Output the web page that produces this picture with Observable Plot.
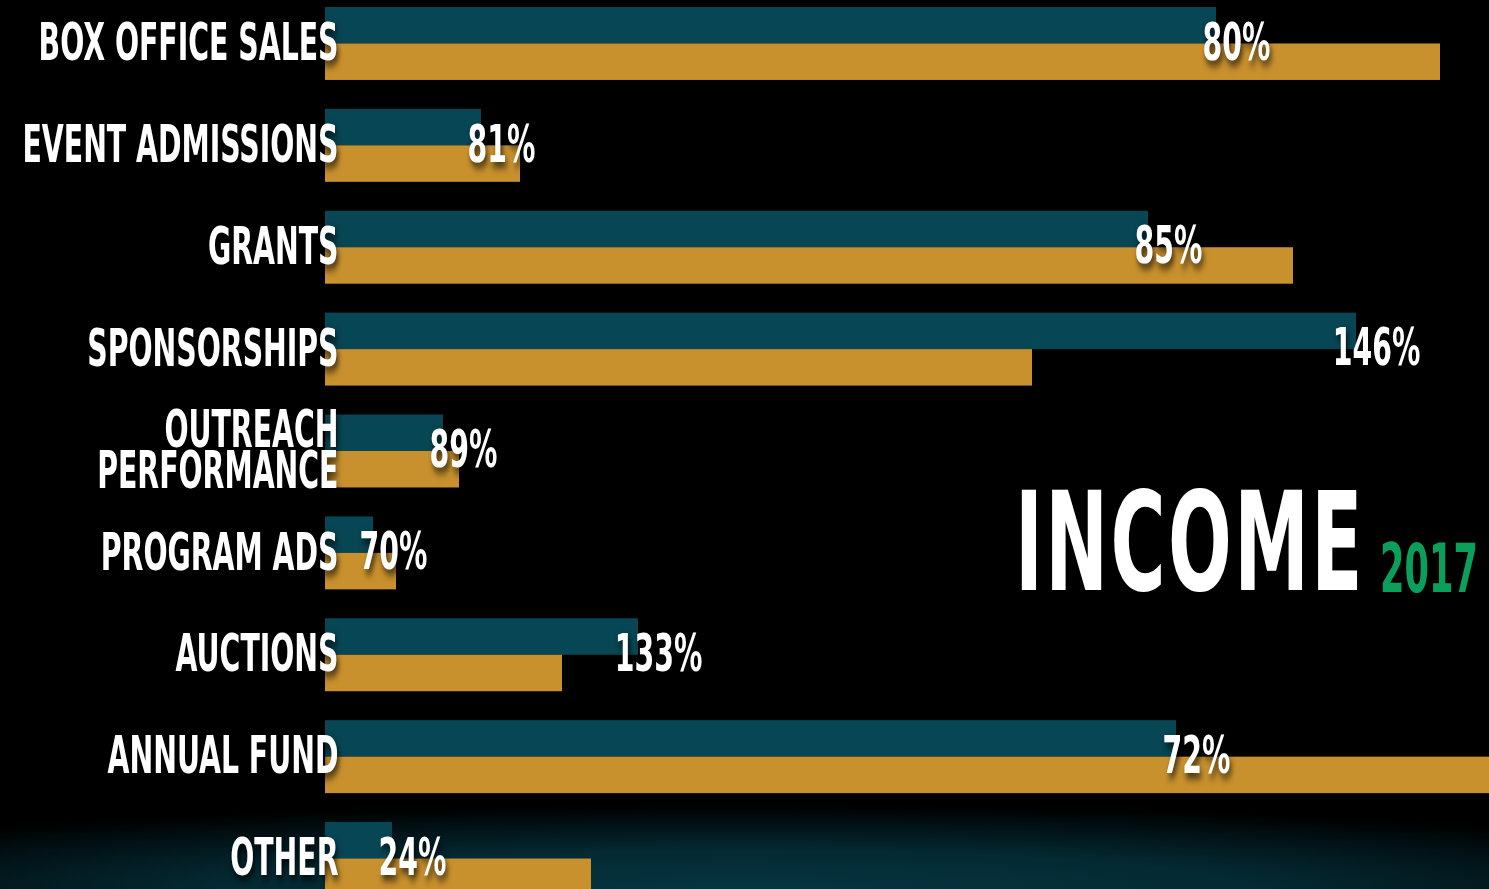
<!DOCTYPE html>
<html>
<head>
<meta charset="utf-8">
<script src="https://cdn.jsdelivr.net/npm/d3@7"></script>
<script src="https://cdn.jsdelivr.net/npm/@observablehq/plot@0.6"></script>
<style>
  html, body { margin: 0; padding: 0; background: #000; overflow: hidden; width: 1489px; height: 889px; }
  #wrap { position: relative; width: 1489px; height: 889px; background: #000; }
  #glow { position: absolute; left: 0; top: 805px; width: 1489px; height: 84px;
    background: radial-gradient(ellipse 75% 100% at 50% 100%, #06343f 0%, #042a33 45%, rgba(0,0,0,0) 100%); }
  #chart { position: absolute; left: 0; top: 0; }
  #chart svg { background: transparent !important; overflow: hidden; }
  #title { position: absolute; left: 0; top: 0; pointer-events: none; }
  text { filter: drop-shadow(3px 5px 4px rgba(0,0,0,0.75)); }
</style>
</head>
<body>
<div id="wrap">
  <div id="glow"></div>
  <div id="chart"></div>
  <svg id="title" width="1489" height="889"></svg>
</div>
<script>
// Income categories (top to bottom)
const categories = ["BOX OFFICE SALES", "EVENT ADMISSIONS", "GRANTS", "SPONSORSHIPS", "OUTREACH\nPERFORMANCE", "PROGRAM ADS", "AUCTIONS", "ANNUAL FUND", "OTHER"];
// 2017 actual (teal, top bar) and budget (gold, bottom bar), estimated units
const actual2017 = [891, 156, 823, 1031, 118, 48, 313, 851, 67];
const budget2017 = [1115, 195, 968, 707, 134, 71, 237, 1182, 266];
// Percent of budget labels as printed
const pctLabels = ["80%", "81%", "85%", "146%", "89%", "70%", "133%", "72%", "24%"];
const seriesNames = ["Actual", "Budget"];
const seriesColors = ["#074654", "#c9912d"];

const rows = [];
categories.forEach((c, i) => {
  rows.push({category: c, series: "Actual", value: actual2017[i]});
  rows.push({category: c, series: "Budget", value: budget2017[i]});
});
const labels = categories.map((c, i) => ({category: c, value: actual2017[i], label: pctLabels[i]}));

const FONT = "'Liberation Sans Narrow', 'DejaVu Sans Condensed', 'Arial Narrow', sans-serif";

const chart = Plot.plot({
  width: 1489,
  height: 889,
  marginLeft: 325,
  marginRight: 0,
  marginTop: 7,
  marginBottom: -6,
  style: {background: "transparent", overflow: "hidden"},
  x: {domain: [0, 1164], axis: null},
  y: {domain: seriesNames, padding: 0, round: false, axis: null},
  fy: {domain: categories, paddingInner: 0.284, paddingOuter: 0, round: false, axis: null},
  color: {domain: seriesNames, range: seriesColors},
  marks: [
    Plot.barX(rows, {x: "value", y: "series", fy: "category", fill: "series"}),
    Plot.text(labels, {
      fy: "category", text: "category", frameAnchor: "left", textAnchor: "end", dx: 13, dy: 3,
      fill: "white", fontSize: 52, fontWeight: "bold", fontFamily: FONT, lineHeight: 0.79
    }),
    Plot.text(labels, {
      fy: "category", x: "value", text: "label", textAnchor: "middle", dx: 20, dy: -1,
      fill: "white", fontSize: 52, fontWeight: "bold", fontFamily: FONT
    })
  ]
});
document.getElementById("chart").appendChild(chart);

// condense the glyphs (the original uses a very narrow display face)
const texts = Array.from(chart.querySelectorAll("text"));
const ref = texts.find(t => t.textContent === "BOX OFFICE SALES");
const ratio = ref ? 300 / ref.getBBox().width : 0.66;
texts.forEach(t => {
  const tr = t.getAttribute("transform") || "";
  t.setAttribute("transform", (tr + ` scale(${ratio},1)`).trim());
});

// Title block
const title = d3.select("#title");
const inc = title.append("text").text("INCOME")
  .attr("font-family", FONT).attr("font-weight", "bold").attr("font-size", 137)
  .attr("fill", "white").attr("letter-spacing", 4);
const w1 = inc.node().getBBox().width;
inc.attr("transform", `translate(1015,590) scale(${350 / w1},1)`);
const yr = title.append("text").text("2017")
  .attr("font-family", FONT).attr("font-weight", "bold").attr("font-size", 68)
  .attr("fill", "#0aa05c");
const w2 = yr.node().getBBox().width;
yr.attr("transform", `translate(1380,592) scale(${98 / w2},1)`);
</script>
</body>
</html>
